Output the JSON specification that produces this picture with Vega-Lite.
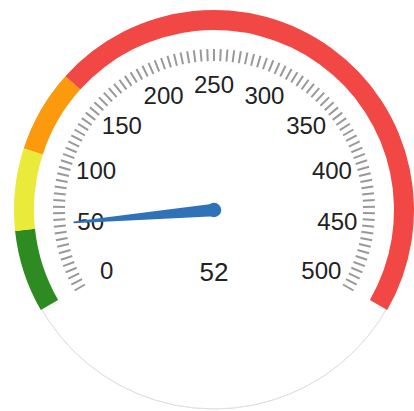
{
  "$schema": "https://vega.github.io/schema/vega-lite/v6.json",
  "width": 400,
  "height": 400,
  "autosize": {"type": "none"},
  "padding": {"left": 14, "top": 10, "right": 0, "bottom": 0},
  "background": "white",
  "view": {"stroke": null},
  "config": {"font": "Liberation Sans"},
  "datasets": {
    "bands": [
      {"from": 0, "to": 50, "segment": "green"},
      {"from": 50, "to": 100, "segment": "yellow"},
      {"from": 100, "to": 150, "segment": "orange"},
      {"from": 150, "to": 500, "segment": "red"}
    ],
    "ticks": [
      {"v": 0}, {"v": 5}, {"v": 10}, {"v": 15}, {"v": 20}, {"v": 25}, {"v": 30}, {"v": 35}, {"v": 40}, {"v": 45},
      {"v": 50}, {"v": 55}, {"v": 60}, {"v": 65}, {"v": 70}, {"v": 75}, {"v": 80}, {"v": 85}, {"v": 90}, {"v": 95},
      {"v": 100}, {"v": 105}, {"v": 110}, {"v": 115}, {"v": 120}, {"v": 125}, {"v": 130}, {"v": 135}, {"v": 140}, {"v": 145},
      {"v": 150}, {"v": 155}, {"v": 160}, {"v": 165}, {"v": 170}, {"v": 175}, {"v": 180}, {"v": 185}, {"v": 190}, {"v": 195},
      {"v": 200}, {"v": 205}, {"v": 210}, {"v": 215}, {"v": 220}, {"v": 225}, {"v": 230}, {"v": 235}, {"v": 240}, {"v": 245},
      {"v": 250}, {"v": 255}, {"v": 260}, {"v": 265}, {"v": 270}, {"v": 275}, {"v": 280}, {"v": 285}, {"v": 290}, {"v": 295},
      {"v": 300}, {"v": 305}, {"v": 310}, {"v": 315}, {"v": 320}, {"v": 325}, {"v": 330}, {"v": 335}, {"v": 340}, {"v": 345},
      {"v": 350}, {"v": 355}, {"v": 360}, {"v": 365}, {"v": 370}, {"v": 375}, {"v": 380}, {"v": 385}, {"v": 390}, {"v": 395},
      {"v": 400}, {"v": 405}, {"v": 410}, {"v": 415}, {"v": 420}, {"v": 425}, {"v": 430}, {"v": 435}, {"v": 440}, {"v": 445},
      {"v": 450}, {"v": 455}, {"v": 460}, {"v": 465}, {"v": 470}, {"v": 475}, {"v": 480}, {"v": 485}, {"v": 490}, {"v": 495},
      {"v": 500}
    ],
    "labels": [
      {"v": 0, "label": "0"}, {"v": 50, "label": "50"}, {"v": 100, "label": "100"}, {"v": 150, "label": "150"},
      {"v": 200, "label": "200"}, {"v": 250, "label": "250"}, {"v": 300, "label": "300"}, {"v": 350, "label": "350"},
      {"v": 400, "label": "400"}, {"v": 450, "label": "450"}, {"v": 500, "label": "500"}
    ],
    "reading": [{"value": 52}]
  },
  "layer": [
    {
      "data": {"values": [{"ring": "outline"}]},
      "mark": {"type": "arc", "theta": 0, "theta2": 6.2832, "radius": 199, "radius2": 199, "fill": null, "stroke": "#e2e2e2", "strokeWidth": 1},
      "encoding": {}
    },
    {
      "data": {"name": "bands"},
      "mark": {"type": "arc", "radius": 200, "radius2": 180},
      "encoding": {
        "theta": {"field": "from", "type": "quantitative", "stack": null, "scale": {"domain": [0, 500], "range": [-2.0944, 2.0944]}},
        "theta2": {"field": "to"},
        "color": {"field": "segment", "type": "nominal", "legend": null,
          "scale": {"domain": ["green", "yellow", "orange", "red"], "range": ["#2e8b22", "#eaea3a", "#fa9a0c", "#f14845"]}}
      }
    },
    {
      "data": {"name": "ticks"},
      "mark": {"type": "arc", "radius": 161, "radius2": 149, "stroke": "#999999", "strokeWidth": 2, "fill": null},
      "encoding": {
        "theta": {"field": "v", "type": "quantitative", "stack": null},
        "theta2": {"field": "v"}
      }
    },
    {
      "data": {"name": "labels"},
      "mark": {"type": "text", "radius": 124, "fontSize": 24, "align": "center", "baseline": "middle", "color": "#222"},
      "encoding": {
        "theta": {"field": "v", "type": "quantitative", "stack": null},
        "text": {"field": "label", "type": "nominal"}
      }
    },
    {
      "data": {"name": "reading"},
      "mark": {"type": "point", "shape": "M -0.045 0 L -0.007 -1 L 0.007 -1 L 0.045 0 Z", "size": 79524, "filled": true, "opacity": 1, "color": "#2f72b8", "strokeWidth": 0},
      "encoding": {
        "angle": {"field": "value", "type": "quantitative", "scale": {"domain": [0, 500], "range": [-120, 120]}}
      }
    },
    {
      "data": {"name": "reading"},
      "mark": {"type": "point", "shape": "circle", "size": 210, "filled": true, "opacity": 1, "color": "#2f72b8"},
      "encoding": {}
    },
    {
      "data": {"name": "reading"},
      "mark": {"type": "text", "dy": 63, "fontSize": 26, "align": "center", "baseline": "middle", "color": "#222"},
      "encoding": {
        "text": {"field": "value", "type": "quantitative"}
      }
    }
  ]
}
